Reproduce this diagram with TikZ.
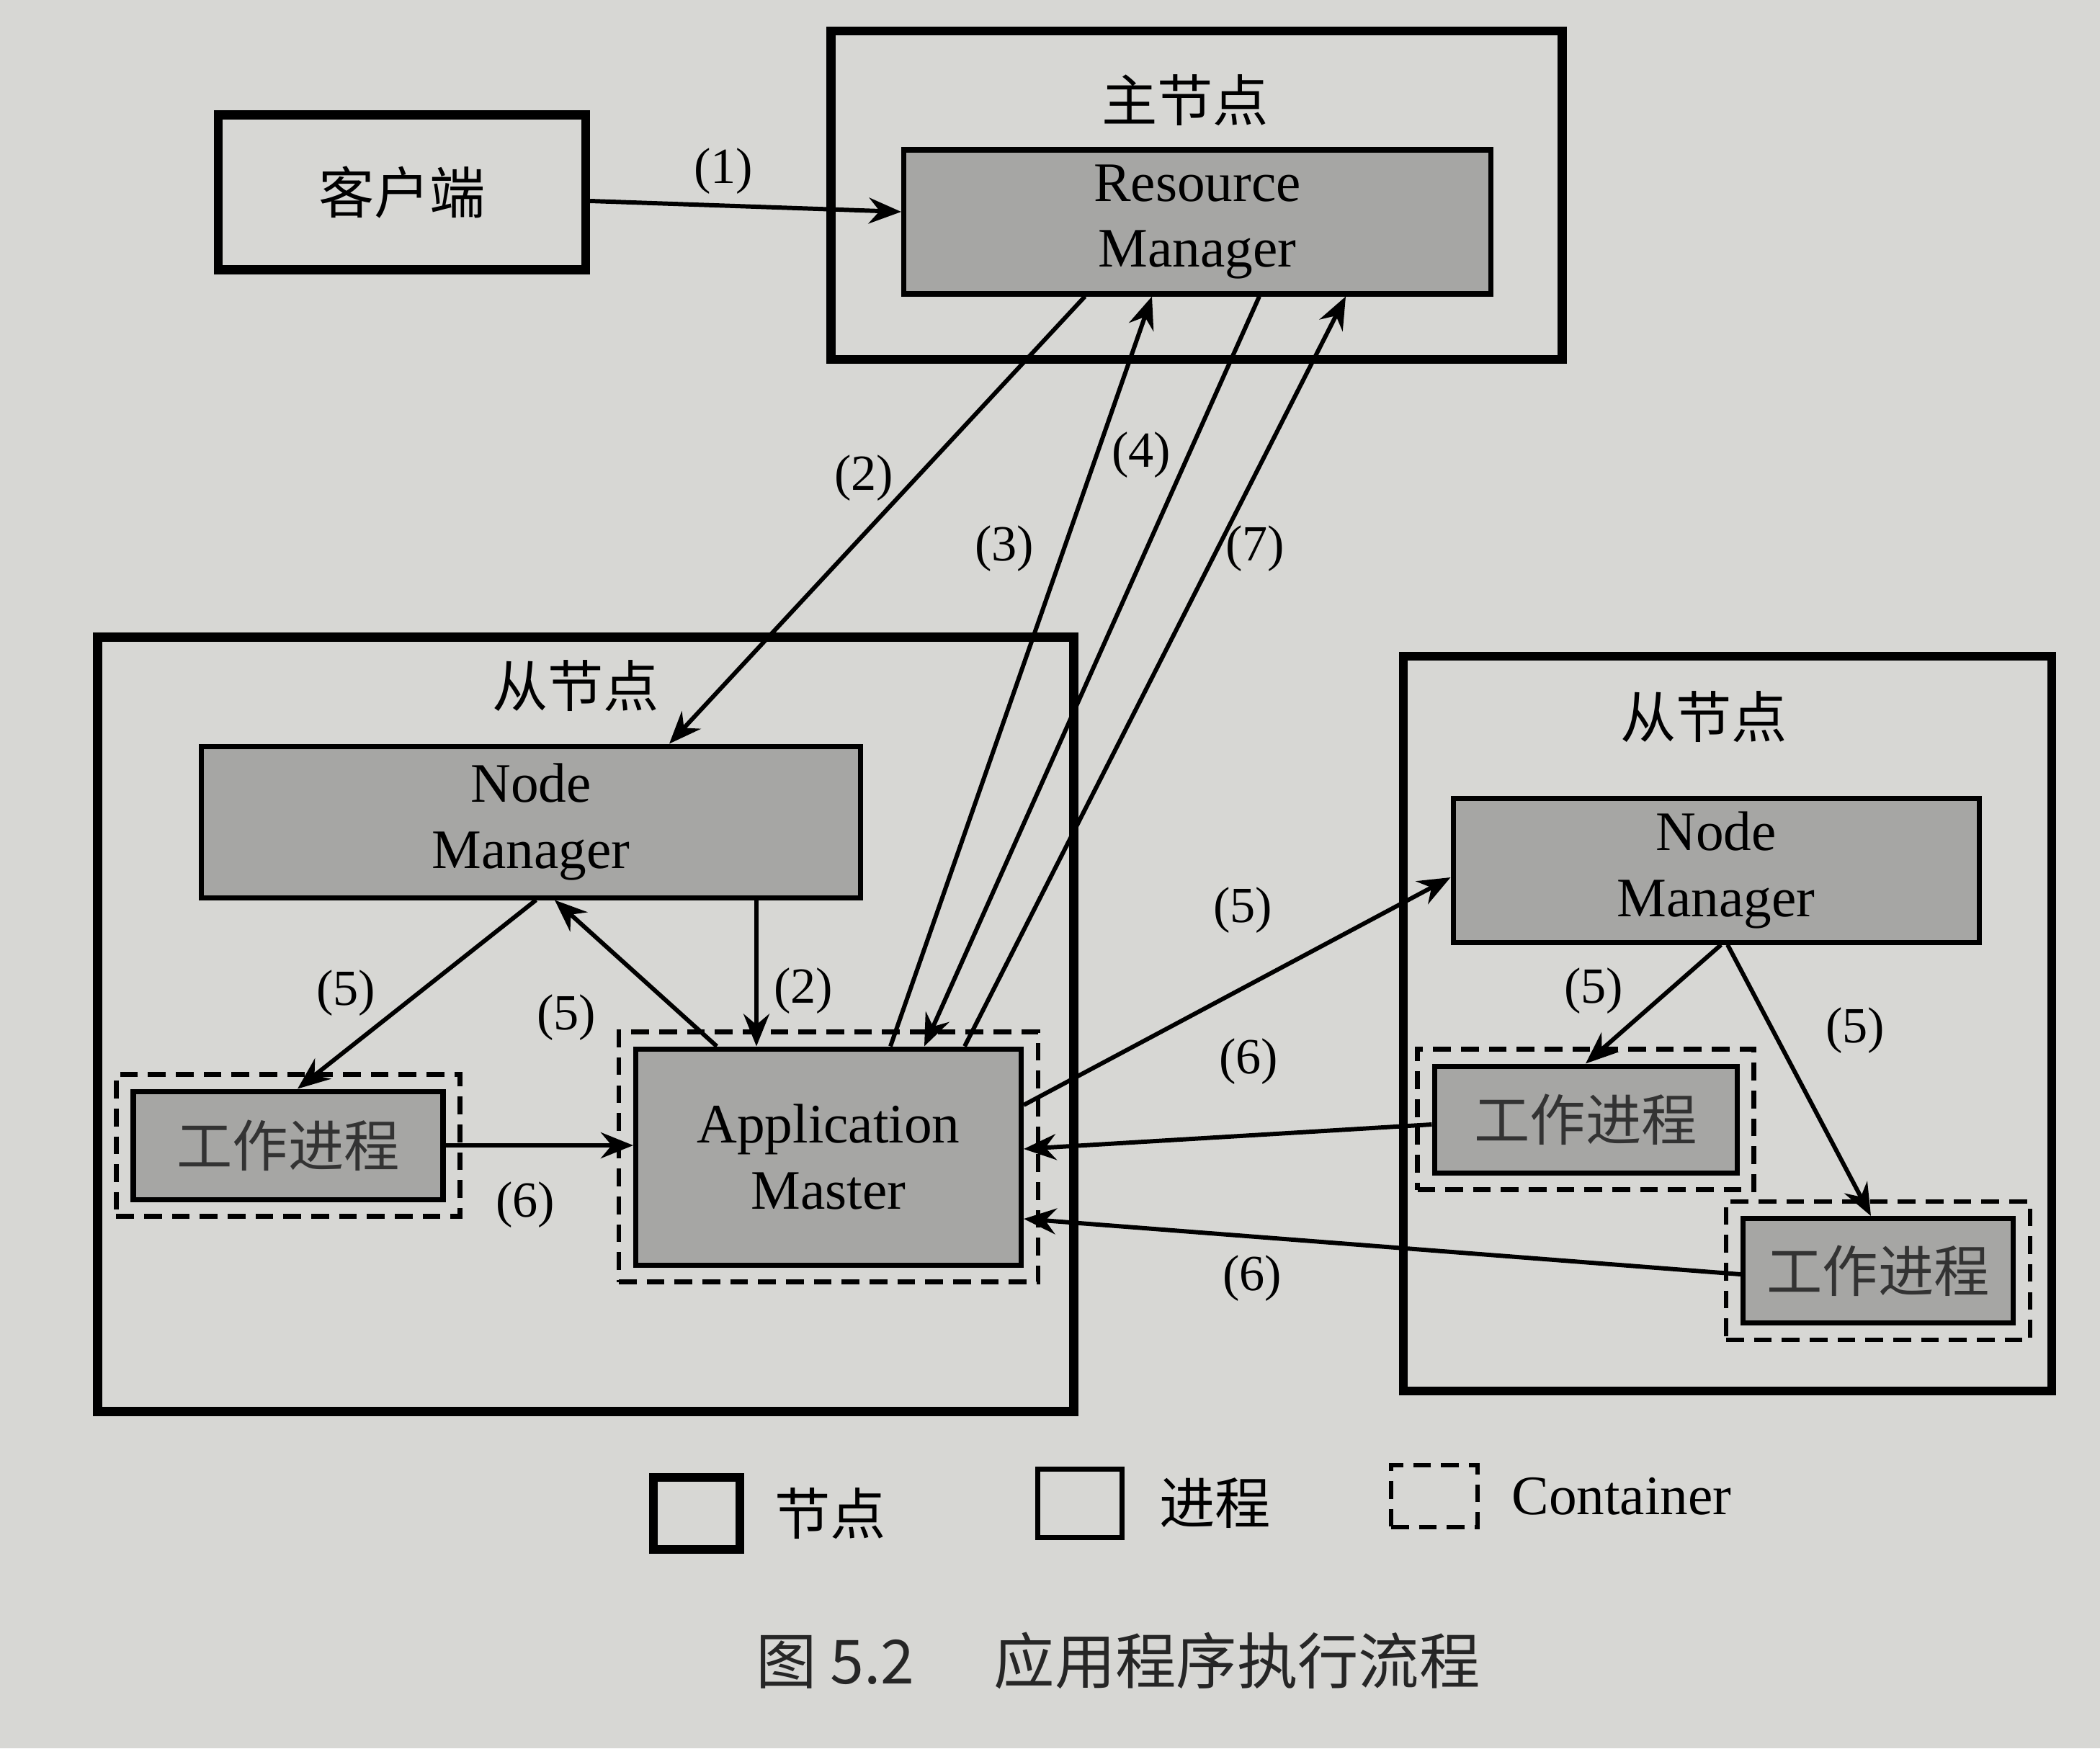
\documentclass[tikz,border=0pt]{standalone}
\usepackage{fontspec}
\setmainfont{Liberation Serif}
\newfontfamily\cjk{Noto Sans CJK SC}
\usetikzlibrary{arrows.meta, positioning, fit}
\definecolor{paper}{RGB}{215,215,212}
\definecolor{procgray}{RGB}{166,166,164}
\newcommand\cnfont{\fontsize{22}{26}\selectfont\cjk}
\newcommand\enfont{\fontsize{22}{26}\selectfont}
\newcommand\lblfont{\fontsize{20}{24}\selectfont}

\begin{document}
\begin{tikzpicture}[
  nodebox/.style={draw, line width=3.5pt, text centered},
  procbox/.style={draw, line width=2pt, fill=procgray, align=center, font=\enfont},
  workbox/.style={draw, line width=2pt, fill=procgray, font=\cnfont, text=black!80},
  contbox/.style={draw, line width=1.8pt, dash pattern=on 7pt off 4pt, inner sep=0.2cm},
  arrow/.style={-{Stealth[length=0.45cm, width=0.36cm, inset=0.15cm]}, line width=1.7pt},
  lbl/.style={font=\lblfont}
]
\fill[paper] (0,0) rectangle (29.15,-24.27);
\useasboundingbox (0,0) rectangle (29.15,-24.27);

% master node
\node[nodebox, minimum width=5.1cm, minimum height=2.15cm, font=\cnfont] (client) at (5.58,-2.67) {客户端};
\node[nodebox, minimum width=10.15cm, minimum height=4.56cm] (master) at (16.61,-2.71) {};
\node[font=\cnfont] (mastertitle) at (16.45,-1.39) {主节点};
\node[procbox, minimum width=8.15cm, minimum height=2.0cm] (rm) at (16.62,-3.08) {Resource\\Manager};

% left slave node
\node[nodebox, minimum width=13.55cm, minimum height=10.75cm] (lslave) at (8.13,-14.22) {};
\node[font=\cnfont] (ltitle) at (7.99,-9.52) {从节点};
\node[procbox, minimum width=9.15cm, minimum height=2.1cm] (lnm) at (7.37,-11.41) {Node\\Manager};
\node[workbox, minimum width=4.3cm, minimum height=1.5cm] (lw) at (4.00,-15.90) {工作进程};
\node[contbox, fit=(lw)] (lwc) {};
\node[procbox, minimum width=5.35cm, minimum height=3.0cm] (am) at (11.50,-16.06) {Application\\Master};
\node[contbox, fit=(am)] (amc) {};

% right slave node
\node[nodebox, minimum width=9.0cm, minimum height=10.2cm] (rslave) at (23.98,-14.21) {};
\node[font=\cnfont] (rtitle) at (23.65,-9.95) {从节点};
\node[procbox, minimum width=7.3cm, minimum height=2.0cm] (rnm) at (23.82,-12.08) {Node\\Manager};
\node[workbox, minimum width=4.2cm, minimum height=1.48cm] (rwa) at (22.01,-15.54) {工作进程};
\node[contbox, fit=(rwa)] (rwac) {};
\node[workbox, minimum width=3.75cm, minimum height=1.45cm] (rwb) at (26.07,-17.64) {工作进程};
\node[contbox, fit=(rwb)] (rwbc) {};

% connectors
\draw[arrow] ([yshift=-0.12cm]client.east) -- ([yshift=0.14cm]rm.west);
\draw[arrow] ([xshift=-1.56cm]rm.south) -- ([xshift=1.92cm]lnm.north);
\draw[arrow] ([xshift=0.86cm]am.north) -- ([xshift=-0.63cm]rm.south);
\draw[arrow] ([xshift=0.86cm]rm.south) -- ([xshift=1.33cm]am.north);
\draw[arrow] ([xshift=1.89cm]am.north) -- ([xshift=2.06cm]rm.south);
\draw[arrow] ([xshift=3.13cm]lnm.south) -- ([xshift=3.13cm]lnm.south |- am.north);
\draw[arrow] ([xshift=0.07cm]lnm.south) -- ([xshift=0.13cm]lw.north);
\draw[arrow] ([xshift=-1.55cm]am.north) -- ([xshift=0.33cm]lnm.south);
\draw[arrow] (lw.east) -- (lw.east -| am.west);
\draw[arrow] ([yshift=0.72cm]am.east) -- ([yshift=-0.1cm]rnm.west);
\draw[arrow] ([yshift=-0.07cm]rwa.west) -- ([yshift=0.11cm]am.east);
\draw[arrow] ([yshift=-0.05cm]rwb.west) -- ([yshift=-0.86cm]am.east);
\draw[arrow] ([xshift=0.07cm]rnm.south) -- (rwa.north);
\draw[arrow] ([xshift=0.16cm]rnm.south) -- ([xshift=-0.1cm]rwb.north);

% step labels
\node[lbl] (s1) at (10.04,-2.38) {(1)};
\node[lbl] (s2a) at (11.99,-6.64) {(2)};
\node[lbl] (s4) at (15.84,-6.32) {(4)};
\node[lbl] (s3) at (13.94,-7.62) {(3)};
\node[lbl] (s7) at (17.42,-7.62) {(7)};
\node[lbl] (s2b) at (11.15,-13.76) {(2)};
\node[lbl] (s5a) at (4.80,-13.79) {(5)};
\node[lbl] (s5b) at (7.86,-14.13) {(5)};
\node[lbl] (s6a) at (7.29,-16.73) {(6)};
\node[lbl] (s5c) at (17.25,-12.64) {(5)};
\node[lbl] (s6b) at (17.33,-14.74) {(6)};
\node[lbl] (s6c) at (17.38,-17.75) {(6)};
\node[lbl] (s5d) at (22.12,-13.76) {(5)};
\node[lbl] (s5e) at (25.75,-14.31) {(5)};

% legend
\node[nodebox, minimum width=1.2cm, minimum height=1.0cm] (lgnode) at (9.67,-21.01) {};
\node[font=\cnfont, right=0.3cm of lgnode] (lgnodetxt) {节点};
\node[draw, line width=2pt, minimum width=1.17cm, minimum height=0.95cm] (lgproc) at (14.99,-20.87) {};
\node[font=\cnfont, right=0.36cm of lgproc] (lgproctxt) {进程};
\node[draw, line width=1.8pt, dash pattern=on 7pt off 4pt, minimum width=1.2cm, minimum height=0.86cm] (lgcont) at (19.91,-20.77) {};
\node[font=\enfont, right=0.32cm of lgcont] (lgconttxt) {Container};

% caption
\node[font=\fontsize{24}{28}\selectfont\cjk, text=black!85] (caption) at (15.52,-23.05) {图 5.2\hspace{1.1cm}应用程序执行流程};
\end{tikzpicture}
\end{document}
